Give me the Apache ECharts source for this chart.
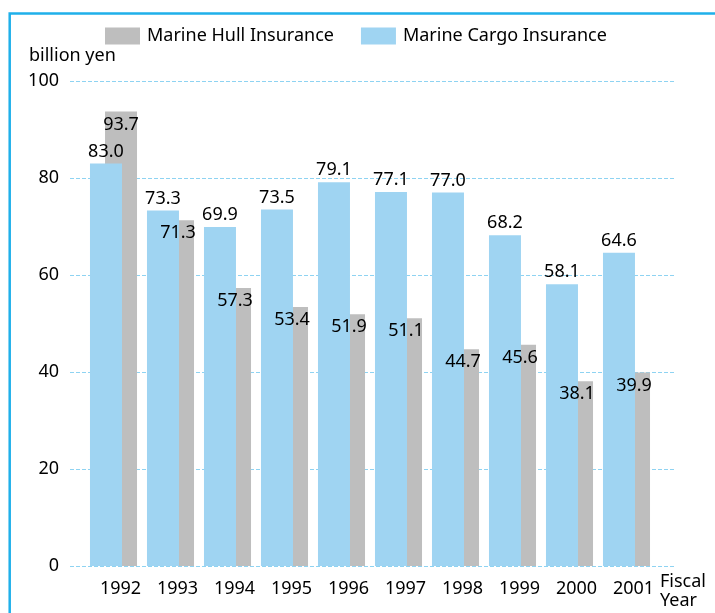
<!DOCTYPE html>
<html>
<head>
<meta charset="utf-8">
<script src="https://cdn.jsdelivr.net/npm/echarts@6/dist/echarts.min.js"></script>
<style>
  html, body { margin: 0; padding: 0; background: #fff; }
  #chart { width: 715px; height: 613px; }
</style>
</head>
<body>
<div id="chart"></div>
<script>
const years = ["1992", "1993", "1994", "1995", "1996", "1997", "1998", "1999", "2000", "2001"];
const cargo = [83.0, 73.3, 69.9, 73.5, 79.1, 77.1, 77.0, 68.2, 58.1, 64.6];
const hull = [93.7, 71.3, 57.3, 53.4, 51.9, 51.1, 44.7, 45.6, 38.1, 39.9];
const yTicks = [0, 20, 40, 60, 80, 100];

const FONT = "Noto Sans";
const blue = "#9fd4f2";
const grey = "#bebebe";

const chart = echarts.init(document.getElementById("chart"));

const option = {
  animation: false,
  textStyle: { fontFamily: FONT, color: "#000" },
  legend: {
    left: 105,
    top: 27,
    padding: 0,
    itemWidth: 35,
    itemHeight: 17,
    itemGap: 27,
    icon: "rect",
    data: ["Marine Hull Insurance", "Marine Cargo Insurance"],
    textStyle: { fontSize: 18, color: "#000", padding: [0, 0, 0, 2] },
  },
  graphic: [
    {
      // blue frame on top / left
      type: "polyline",
      shape: { points: [[9.7, 640], [9.7, 13.5], [740, 13.5]] },
      style: { stroke: "#1fb0ea", lineWidth: 2.5, fill: null },
      silent: true,
    },
    {
      type: "text",
      left: 29,
      top: 47,
      style: { text: "billion yen", fontSize: 18, fontFamily: FONT, fill: "#000" },
    },
  ],
  grid: [
    // grid for gridlines and y labels
    { left: 70, right: 39, top: 81, bottom: 47 },
    // grid for the bars
    { left: 85, right: 60, top: 81, bottom: 47 },
  ],
  xAxis: [
    { gridIndex: 0, type: "value", show: false, min: 0, max: 1 },
    {
      gridIndex: 1,
      type: "category",
      data: years,
      axisLine: { show: false },
      axisTick: { show: false },
      axisLabel: {
        fontSize: 18,
        color: "#000",
        margin: 14,
        padding: [0, 0, 0, 14],
      },
      name: "Fiscal\nYear",
      nameLocation: "end",
      nameGap: 5,
      nameTextStyle: {
        fontSize: 18,
        color: "#000",
        align: "left",
        verticalAlign: "top",
        lineHeight: 19,
        padding: [6, 0, 0, 0],
      },
    },
  ],
  yAxis: [
    {
      gridIndex: 0,
      type: "value",
      min: yTicks[0],
      max: yTicks[yTicks.length - 1],
      interval: 20,
      axisLine: { show: false },
      axisTick: { show: false },
      axisLabel: { fontSize: 18, color: "#000", margin: 11 },
      splitLine: {
        lineStyle: { color: "#8ed3f2", type: [4, 2], width: 1 },
      },
    },
    {
      gridIndex: 1,
      type: "value",
      min: yTicks[0],
      max: yTicks[yTicks.length - 1],
      show: false,
      splitLine: { show: false },
    },
  ],
  series: [
    {
      name: "Marine Cargo Insurance",
      type: "bar",
      xAxisIndex: 1,
      yAxisIndex: 1,
      data: cargo,
      barWidth: 32,
      barGap: "-53%",
      z: 3,
      itemStyle: { color: blue },
      label: {
        show: true,
        position: "top",
        distance: 3,
        fontSize: 18,
        color: "#000",
        formatter: (p) => p.value.toFixed(1),
      },
    },
    {
      name: "Marine Hull Insurance",
      type: "bar",
      xAxisIndex: 1,
      yAxisIndex: 1,
      data: hull,
      barWidth: 32,
      z: 2,
      itemStyle: { color: grey },
    },
    {
      // labels for the hull bars, drawn above the blue bars
      name: "hullLabels",
      type: "scatter",
      xAxisIndex: 1,
      yAxisIndex: 1,
      data: hull,
      symbolSize: 0,
      z: 10,
      silent: true,
      itemStyle: { opacity: 1 },
      label: {
        show: true,
        position: "bottom",
        distance: 4,
        offset: [7.5, 0],
        fontSize: 18,
        color: "#000",
        formatter: (p) => p.value.toFixed(1),
      },
    },
  ],
};

chart.setOption(option);
</script>
</body>
</html>
